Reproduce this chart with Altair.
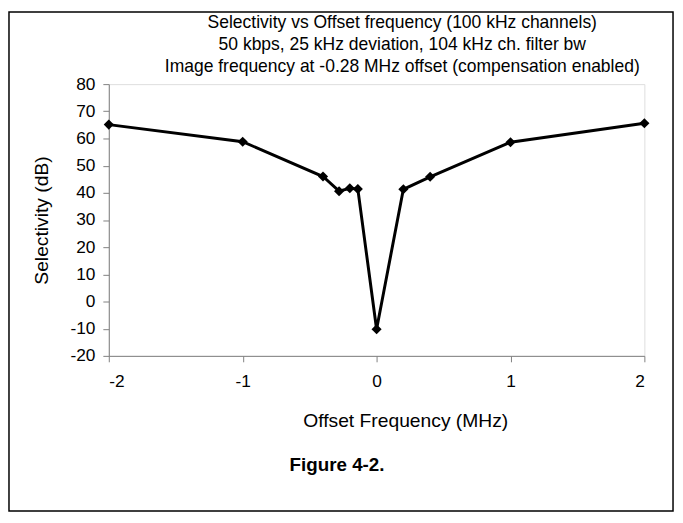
import altair as alt
import pandas as pd

offset_mhz = [-2, -1, -0.4, -0.28, -0.2, -0.14, 0, 0.2, 0.4, 1, 2]
selectivity_db = [65.1, 58.8, 46.0, 40.6, 41.7, 41.4, -10.2, 41.3, 45.9, 58.6, 65.6]
x_ticks = [-2, -1, 0, 1, 2]
y_ticks = [-20, -10, 0, 10, 20, 30, 40, 50, 60, 70, 80]
title_lines = [
    "Selectivity vs Offset frequency (100 kHz channels)",
    "50 kbps, 25 kHz deviation, 104 kHz ch. filter bw",
    "Image frequency at -0.28 MHz offset (compensation enabled)",
]
caption = "Figure 4-2."

df = pd.DataFrame({"x": offset_mhz, "y": selectivity_db})
FONT = "Liberation Sans"

x_enc = alt.X(
    "x:Q",
    scale=alt.Scale(domain=[-2, 2], nice=False, zero=False),
    axis=alt.Axis(
        values=x_ticks,
        tickCount=len(x_ticks),
        title="Offset Frequency (MHz)",
        labelExpr="toString(datum.value)",
        labelOverlap=False,
        grid=False,
        domainColor="#808080",
        tickColor="#808080",
        tickSize=6,
        labelFont=FONT,
        labelFontSize=17.5,
        labelColor="#000000",
        labelPadding=11,
        titleFont=FONT,
        titleFontSize=19.5,
        titleFontWeight="normal",
        titleColor="#000000",
        titleX=300,
        titleAlign="center",
        titlePadding=22,
    ),
)
y_enc = alt.Y(
    "y:Q",
    scale=alt.Scale(domain=[-20, 80], nice=False, zero=False),
    axis=alt.Axis(
        values=y_ticks,
        tickCount=len(y_ticks),
        title="Selectivity (dB)",
        labelExpr="toString(datum.value)",
        labelOverlap=False,
        grid=False,
        domainColor="#808080",
        tickColor="#808080",
        tickSize=6,
        labelFont=FONT,
        labelFontSize=17.5,
        labelColor="#000000",
        labelPadding=8,
        titleFont=FONT,
        titleFontSize=19.5,
        titleFontWeight="normal",
        titleColor="#000000",
        titlePadding=19,
    ),
)

line = alt.Chart(df).mark_line(
    color="black",
    strokeWidth=3,
    point=alt.OverlayMarkDef(shape="diamond", filled=True, color="black", size=105, opacity=1),
).encode(x=x_enc, y=y_enc)

one = alt.Data(values=[{"c": caption, "t": "\n".join(title_lines)}])
frame = alt.Chart(one).mark_rect(fill=None, stroke="black", strokeWidth=1.5).encode(
    x=alt.value(-101), x2=alt.value(571), y=alt.value(-73), y2=alt.value(432)
)
cap = alt.Chart(one).mark_text(
    font=FONT, fontSize=19, fontWeight="bold", color="black", align="center", baseline="middle"
).encode(text="c:N", x=alt.value(231), y=alt.value(386))
ttl = alt.Chart(one).mark_text(
    font=FONT, fontSize=17.7, color="black", align="center", baseline="middle",
    lineBreak="\n", lineHeight=22.5,
).encode(text="t:N", x=alt.value(297), y=alt.value(-62))

chart = (
    alt.layer(frame, line, cap, ttl)
    .properties(
        width=542,
        height=275,
        padding={"left": 102, "top": 74, "right": 31, "bottom": 158},
        autosize=alt.AutoSizeParams(type="none"),
    )
    .configure_view(stroke="#c0c0c0", strokeWidth=1)
    .configure(background="white")
)

chart.save("out.html", embed_options={"renderer": "svg", "actions": False})
